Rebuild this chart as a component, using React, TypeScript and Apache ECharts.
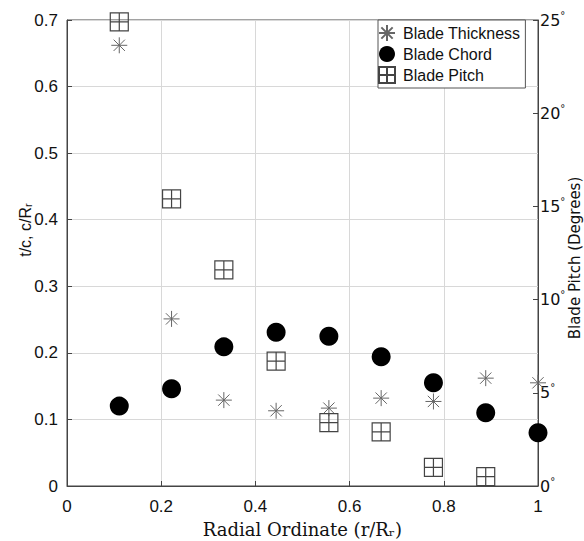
import React, { useEffect, useRef } from "react";
import * as echarts from "echarts";

const radial = [0.111, 0.222, 0.333, 0.444, 0.556, 0.667, 0.778, 0.889, 1.0];
const thickness = [0.662, 0.251, 0.129, 0.113, 0.117, 0.132, 0.127, 0.162, 0.155];
const chord = [0.12, 0.146, 0.209, 0.231, 0.225, 0.194, 0.155, 0.11, 0.08];
const pitchRadial = [0.111, 0.222, 0.333, 0.444, 0.556, 0.667, 0.778, 0.889];
const pitch = [24.9, 15.4, 11.6, 6.7, 3.4, 2.9, 1.0, 0.5];

const ASTERISK =
  "path://M0,-10L0,10M-10,0L10,0M-7.07,-7.07L7.07,7.07M-7.07,7.07L7.07,-7.07";
const BOXCROSS = "path://M-10,-10L10,-10L10,10L-10,10ZM0,-10L0,10M-10,0L10,0";

export default function App() {
  const ref = useRef<HTMLDivElement>(null);
  useEffect(() => {
    if (!ref.current) return;
    const chart = echarts.init(ref.current, undefined, { renderer: "svg" });
    const tickFont = { fontFamily: "Liberation Sans", fontSize: 17, color: "#111" };
    chart.setOption({
      animation: false,
      backgroundColor: "#fff",
      grid: {
        left: 67,
        right: 46,
        top: 20,
        bottom: 55,
        outerBoundsMode: "none",
        containLabel: false,
        show: true,
        borderColor: "#444",
        borderWidth: 1,
        backgroundColor: "transparent",
      },
      legend: {
        orient: "vertical",
        left: 378,
        top: 20,
        padding: [4, 5, 4, 0],
        itemGap: 4,
        itemWidth: 22,
        itemHeight: 16,
        backgroundColor: "#fff",
        borderColor: "#555",
        borderWidth: 1,
        borderRadius: 0,
        textStyle: { fontFamily: "Liberation Sans", fontSize: 16, color: "#111" },
        data: ["Blade Thickness", "Blade Chord", "Blade Pitch"],
      },
      graphic: [
        {
          type: "text",
          x: 25,
          y: 230,
          rotation: Math.PI / 2,
          style: {
            text: "t/c, c/Rᵣ",
            fontFamily: "Liberation Sans",
            fontSize: 16,
            fill: "#111",
            align: "center",
            verticalAlign: "middle",
          },
        },
        {
          type: "text",
          x: 575,
          y: 258,
          rotation: Math.PI / 2,
          style: {
            text: "Blade Pitch (Degrees)",
            fontFamily: "DejaVu Sans",
            fontSize: 15,
            fill: "#111",
            align: "center",
            verticalAlign: "middle",
          },
        },
      ],
      xAxis: {
        type: "value",
        min: 0,
        max: 1,
        interval: 0.2,
        name: "Radial Ordinate (r/Rᵣ)",
        nameLocation: "middle",
        nameGap: 34,
        nameTextStyle: { fontFamily: "DejaVu Serif", fontSize: 18, color: "#111" },
        axisLine: { lineStyle: { color: "#444" } },
        axisTick: { inside: true, length: 5, lineStyle: { color: "#444" } },
        axisLabel: { ...tickFont, margin: 12 },
        splitLine: { show: true, lineStyle: { color: "#d8d8d8" } },
      },
      yAxis: [
        {
          type: "value",
          min: 0,
          max: 0.7,
          interval: 0.1,
          axisLine: { show: true, lineStyle: { color: "#444" } },
          axisTick: { show: true, inside: true, length: 5, lineStyle: { color: "#444" } },
          axisLabel: { ...tickFont, margin: 9 },
          splitLine: { show: true, lineStyle: { color: "#d8d8d8" } },
        },
        {
          type: "value",
          min: 0,
          max: 25,
          interval: 5,
          position: "right",
          axisLine: { show: true, lineStyle: { color: "#444" } },
          axisTick: { show: true, inside: true, length: 5, lineStyle: { color: "#444" } },
          axisLabel: {
            fontFamily: "DejaVu Sans",
            fontSize: 16,
            color: "#111",
            margin: 2,
            formatter: (v: number) => `${v}{d|°}`,
            rich: {
              d: { fontFamily: "DejaVu Sans", fontSize: 10, color: "#111", padding: [0, 0, 10, 0] },
            },
          },
          splitLine: { show: false },
        },
      ],
      series: [
        {
          name: "Blade Thickness",
          type: "scatter",
          yAxisIndex: 0,
          symbol: ASTERISK,
          symbolSize: 16,
          itemStyle: { color: "transparent", borderColor: "#666", borderWidth: 1, opacity: 1 },
          data: radial.map((x, i) => [x, thickness[i]]),
        },
        {
          name: "Blade Chord",
          type: "scatter",
          yAxisIndex: 0,
          symbol: "circle",
          symbolSize: 19,
          itemStyle: { color: "#000", opacity: 1 },
          data: radial.map((x, i) => [x, chord[i]]),
        },
        {
          name: "Blade Pitch",
          type: "scatter",
          yAxisIndex: 1,
          symbol: BOXCROSS,
          symbolSize: 18,
          itemStyle: { color: "transparent", borderColor: "#444", borderWidth: 1.2, opacity: 1 },
          data: pitchRadial.map((x, i) => [x, pitch[i]]),
        },
      ],
    });
    return () => chart.dispose();
  }, []);
  return <div ref={ref} style={{ width: 584, height: 541, position: "absolute", left: 0, top: 0 }} />;
}
